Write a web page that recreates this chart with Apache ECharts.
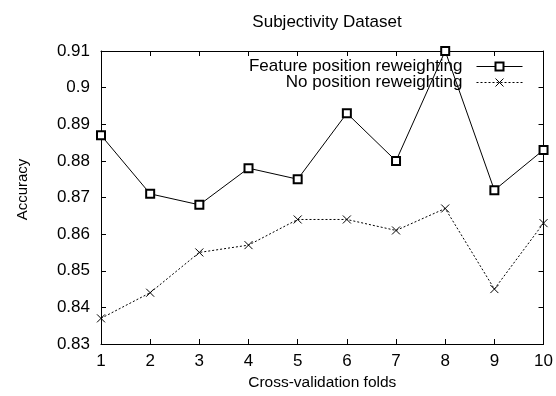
<!DOCTYPE html>
<html>
<head>
<meta charset="utf-8">
<script src="https://cdn.jsdelivr.net/npm/echarts@6/dist/echarts.min.js"></script>
<style>html,body{margin:0;padding:0;background:#fff;}#c{width:556px;height:396px;}</style>
</head>
<body>
<div id="c"></div>
<script>
var folds = [1, 2, 3, 4, 5, 6, 7, 8, 9, 10];
var featureReweighting = [0.887, 0.871, 0.868, 0.878, 0.875, 0.893, 0.880, 0.910, 0.872, 0.883];
var noReweighting = [0.837, 0.844, 0.855, 0.857, 0.864, 0.864, 0.861, 0.867, 0.845, 0.863];
var seriesNames = ['Feature position reweighting', 'No position reweighting'];
var titleText = 'Subjectivity Dataset';
var xName = 'Cross-validation folds';
var yName = 'Accuracy';

function pairs(ys) { return folds.map(function (f, i) { return [f, ys[i]]; }); }

var FONT = 'Liberation Sans, Arial, sans-serif';
var chart = echarts.init(document.getElementById('c'), null, {renderer: 'canvas'});
var axisLine = {show: true, onZero: false, lineStyle: {color: '#000', width: 1}};
var tick = {show: true, inside: true, length: 5, lineStyle: {color: '#000', width: 1}};
var crossPath = 'path://M0,0L10,10M10,0L0,10';

function legendFor(name, top) {
  return {data: [name], orient: 'vertical', right: 33, top: top, align: 'right',
    itemWidth: 46, itemHeight: 10, padding: 0,
    lineStyle: {width: 1},
    itemStyle: {borderWidth: 1},
    textStyle: {fontFamily: FONT, fontSize: 17, color: '#000', padding: [0, 9, 0, 0]}};
}

chart.setOption({
  animation: false,
  backgroundColor: '#fff',
  title: {
    text: titleText, left: 322, top: 9, textAlign: 'center',
    textStyle: {fontFamily: FONT, fontSize: 17, fontWeight: 'normal', color: '#000'}
  },
  grid: {left: 101, right: 12, top: 51, bottom: 52},
  legend: [legendFor(seriesNames[0], 58), legendFor(seriesNames[1], 74)],
  xAxis: [
    {type: 'value', min: 1, max: 10, interval: 1, position: 'bottom',
     name: xName, nameLocation: 'middle', nameGap: 31,
     nameTextStyle: {fontFamily: FONT, fontSize: 15.5, color: '#000'},
     axisLine: axisLine, axisTick: tick, splitLine: {show: false},
     axisLabel: {fontFamily: FONT, fontSize: 17, color: '#000', margin: 9}},
    {type: 'value', min: 1, max: 10, interval: 1, position: 'top',
     axisLine: axisLine, axisTick: tick, splitLine: {show: false}, axisLabel: {show: false}}
  ],
  yAxis: [
    {type: 'value', min: 0.83, max: 0.91, interval: 0.01, position: 'left',
     name: yName, nameLocation: 'middle', nameGap: 71, nameRotate: 90,
     nameTextStyle: {fontFamily: FONT, fontSize: 15, color: '#000', padding: [0, 0, 0, 16]},
     axisLine: axisLine, axisTick: tick, splitLine: {show: false},
     axisLabel: {fontFamily: FONT, fontSize: 17, color: '#000', margin: 11,
       formatter: function (v) { return String(+v.toFixed(2)); }}},
    {type: 'value', min: 0.83, max: 0.91, interval: 0.01, position: 'right',
     axisLine: axisLine, axisTick: tick, splitLine: {show: false}, axisLabel: {show: false}}
  ],
  series: [
    {name: seriesNames[0], type: 'line', data: pairs(featureReweighting),
     symbol: 'emptyRect', symbolSize: 8, showAllSymbol: true,
     lineStyle: {color: '#000', width: 1, type: 'solid'},
     itemStyle: {color: '#000', borderColor: '#000', borderWidth: 1}},
    {name: seriesNames[1], type: 'line', data: pairs(noReweighting),
     symbol: crossPath, symbolSize: 8, showAllSymbol: true,
     lineStyle: {color: '#000', width: 1, type: [2, 2]},
     itemStyle: {color: 'none', borderColor: '#000', borderWidth: 1}}
  ]
});
</script>
</body>
</html>
